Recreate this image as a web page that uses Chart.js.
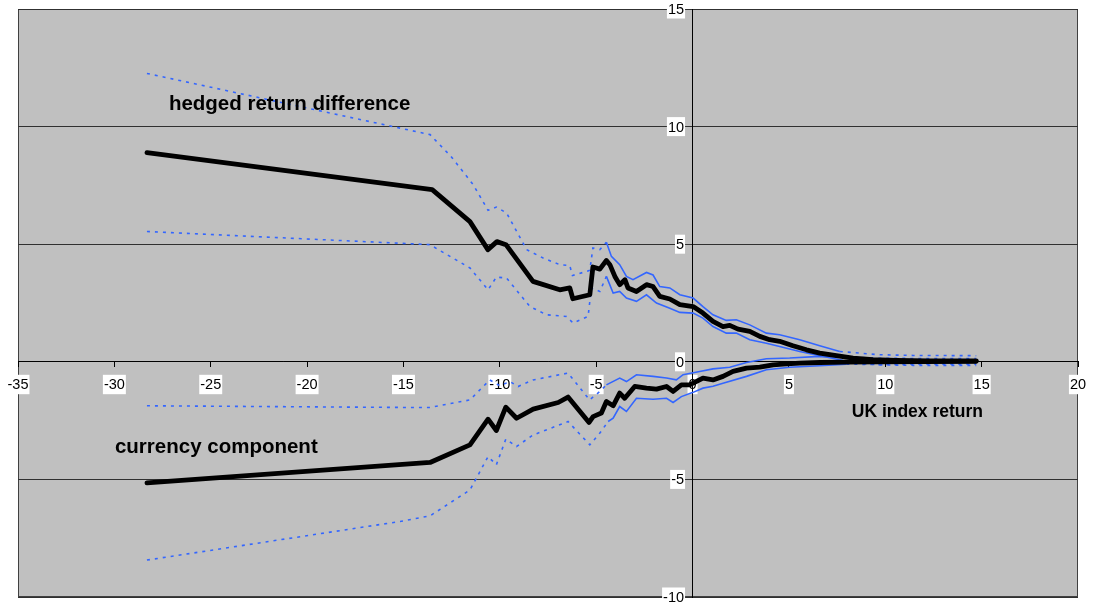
<!DOCTYPE html>
<html>
<head>
<meta charset="utf-8">
<script src="https://cdn.jsdelivr.net/npm/chart.js@4/dist/chart.umd.min.js"></script>
<style>
  body { margin: 0; background: #fff; }
  canvas { display: block; }
</style>
</head>
<body>
<canvas id="chart" width="1093" height="607"></canvas>
<script>
// values (x = UK index return, y = return)
const hedgedX = [-28.31, -13.51, -11.55, -10.62, -10.15, -9.68, -8.28, -6.89, -6.37, -6.21, -5.33, -5.17, -4.81, -4.47, -4.29, -4.03, -3.78, -3.51, -3.35, -2.91, -2.39, -2.05, -1.70, -1.18, -0.66, 0.03, 0.54, 1.06, 1.58, 1.93, 2.36, 2.97, 3.49, 4.00, 4.52, 5.21, 5.91, 6.60, 7.46, 8.33, 9.36, 10.58, 12.30, 14.72];
const hedgedY = [8.89, 7.32, 5.96, 4.77, 5.11, 4.98, 3.42, 3.06, 3.14, 2.68, 2.85, 4.03, 3.94, 4.31, 4.13, 3.63, 3.28, 3.49, 3.14, 2.99, 3.28, 3.20, 2.78, 2.67, 2.43, 2.35, 2.07, 1.72, 1.50, 1.55, 1.39, 1.29, 1.08, 0.94, 0.87, 0.68, 0.51, 0.37, 0.26, 0.16, 0.09, 0.06, 0.04, 0.04];

const hedgedUpX = [-28.31, -13.62, -12.5, -11.38, -10.61, -10.18, -9.65, -8.61, -7.75, -6.89, -6.37, -6.23, -5.68, -5.33, -5.17, -4.81, -4.47, -4.21, -3.78, -3.43, -3.09, -2.39, -2.05, -1.70, -1.18, -0.66, 0.03, 0.54, 1.06, 1.75, 2.27, 2.97, 3.83, 4.52, 5.56, 6.60, 7.64, 8.67, 9.70, 11.45, 14.72];
const hedgedUpY = [12.26, 9.66, 8.7, 7.53, 6.44, 6.58, 6.33, 4.77, 4.41, 4.13, 4.09, 3.67, 3.80, 3.89, 4.84, 4.77, 5.08, 4.48, 4.13, 3.63, 3.49, 3.80, 3.69, 3.20, 3.14, 2.85, 2.71, 2.35, 2.00, 1.76, 1.79, 1.57, 1.22, 1.15, 0.94, 0.68, 0.44, 0.37, 0.30, 0.27, 0.26];

const hedgedLoX = [-28.31, -13.63, -11.55, -10.61, -10.18, -9.65, -8.44, -7.58, -6.54, -6.20, -5.42, -5.25, -4.81, -4.47, -4.12, -3.78, -3.43, -2.91, -2.39, -1.87, -1.18, -0.66, 0.03, 0.54, 1.06, 1.75, 2.27, 2.97, 3.83, 4.52, 5.56, 6.60, 7.64, 8.67, 9.70, 11.45, 14.72];
const hedgedLoY = [5.54, 4.98, 3.99, 3.06, 3.60, 3.56, 2.35, 2.00, 1.93, 1.65, 1.93, 3.14, 2.99, 3.63, 2.92, 2.99, 2.71, 2.57, 2.85, 2.50, 2.28, 2.10, 2.07, 1.86, 1.50, 1.22, 1.22, 0.94, 0.79, 0.65, 0.44, 0.26, 0.09, -0.07, -0.13, -0.15, -0.15];

const currX = [-28.31, -13.62, -11.55, -10.61, -10.18, -9.69, -9.13, -8.27, -6.97, -6.46, -5.37, -5.16, -4.73, -4.47, -4.12, -3.78, -3.52, -3.00, -2.39, -1.87, -1.35, -1.01, -0.58, -0.15, 0.03, 0.54, 1.06, 1.58, 2.10, 2.80, 3.49, 4.18, 4.87, 5.56, 6.60, 7.98, 9.70, 12.0, 14.72];
const currY = [-5.15, -4.28, -3.53, -2.44, -2.92, -1.93, -2.40, -2.01, -1.73, -1.50, -2.58, -2.33, -2.18, -1.69, -1.87, -1.33, -1.55, -1.05, -1.12, -1.16, -1.05, -1.26, -0.98, -0.98, -0.91, -0.69, -0.77, -0.62, -0.41, -0.27, -0.23, -0.13, -0.09, -0.06, -0.03, -0.01, 0.0, 0.01, 0.02];

const currUpX = [-28.31, -15.18, -13.62, -11.55, -10.52, -10.0, -9.48, -9.05, -8.27, -6.46, -5.34, -4.81, -4.47, -3.78, -3.43, -2.91, -2.05, -1.35, -0.84, -0.49, 0.37, 1.06, 1.93, 2.80, 3.83, 5.04, 6.60, 7.98, 9.70, 12.0, 14.72];
const currUpY = [-1.87, -1.94, -1.94, -1.62, -0.77, -1.02, -0.84, -1.05, -0.77, -0.48, -1.62, -1.26, -0.98, -0.69, -0.84, -0.55, -0.62, -0.69, -0.77, -0.55, -0.41, -0.30, -0.23, -0.03, 0.13, 0.16, 0.23, 0.20, 0.15, 0.14, 0.14];

const currLoX = [-28.31, -15.18, -13.62, -11.55, -10.61, -10.18, -9.69, -9.13, -8.27, -6.46, -5.33, -4.81, -4.38, -4.12, -3.78, -3.43, -2.91, -2.05, -1.35, -1.01, -0.58, 0.03, 0.54, 1.06, 1.58, 2.80, 3.83, 5.04, 6.60, 7.98, 9.70, 12.0, 14.72];
const currLoY = [-8.43, -6.79, -6.55, -5.45, -4.03, -4.38, -3.29, -3.60, -3.11, -2.54, -3.53, -3.03, -2.54, -2.40, -1.90, -2.11, -1.55, -1.59, -1.55, -1.73, -1.48, -1.30, -1.12, -1.04, -0.91, -0.62, -0.34, -0.23, -0.17, -0.10, -0.12, -0.10, -0.10];

// axis ranges / tick step
const xRange = [-35, 20];
const yRange = [-10, 15];
const tickStep = 5;

// in-plot labels: [text, x, y, font size]
const notes = [
  ["hedged return difference", -27.17, 10.7, 20.5],
  ["currency component", -29.97, -3.89, 20.5],
  ["UK index return", 8.26, -2.36, 17.5]
];

const pts = (xs, ys) => xs.map((x, i) => ({ x: x, y: ys[i] }));

const BLUE = "#3366ff";
const FAMILY = '"Liberation Sans", Arial, sans-serif';
const tickFont = { family: FAMILY, size: 14.5 };

// dotted where the points are sparse, nearly solid where they crowd together
const bandDash = (ctx) => {
  const a = ctx.p0.parsed.x, b = ctx.p1.parsed.x;
  return (a > -4.6 && b < 8.5) ? [] : [3, 5];
};

const mainLine = (data) => ({
  data: data, showLine: true, pointRadius: 0,
  borderColor: "#000", borderWidth: 4.8, order: 0,
  borderJoinStyle: "round", borderCapStyle: "round"
});
const bandLine = (data) => ({
  data: data, showLine: true, pointRadius: 0,
  borderColor: BLUE, borderWidth: 1.6, order: 1,
  segment: { borderDash: bandDash }
});

// axes sit inside the plot, so they must not take any room from it
const noRoom = (s) => {
  if (s.isHorizontal()) s.height = 0; else s.width = 0;
  s.paddingTop = s.paddingBottom = s.paddingLeft = s.paddingRight = 0;
};

const plotBg = {
  id: "plotBg",
  beforeDraw(chart) {
    const { ctx, chartArea: a } = chart;
    ctx.save();
    ctx.fillStyle = "#c0c0c0";
    ctx.fillRect(a.left, a.top, a.right - a.left, a.bottom - a.top);
    ctx.strokeStyle = "#404040";
    ctx.lineWidth = 1;
    ctx.strokeRect(a.left + 0.5, a.top + 0.5, a.right - a.left - 1, a.bottom - a.top - 1);
    ctx.restore();
  }
};

// y tick labels: chart.js puts them flush on a value-positioned axis, the original has a gap
const yLabels = {
  id: "yLabels",
  afterDatasetsDraw(chart) {
    const { ctx, scales } = chart;
    const ax = scales.x.getPixelForValue(0) - 8.5;
    ctx.save();
    ctx.font = `${tickFont.size}px ${FAMILY}`;
    ctx.textAlign = "right";
    ctx.textBaseline = "middle";
    scales.y.ticks.forEach((t) => {
      const y = scales.y.getPixelForValue(t.value);
      const w = ctx.measureText(t.label).width;
      ctx.fillStyle = "#fff";
      ctx.fillRect(ax - w - 1, y - 9.5, w + 2, 19);
      ctx.fillStyle = "#000";
      ctx.fillText(t.label, ax, y + 1);
    });
    ctx.restore();
  }
};

const notesPlugin = {
  id: "notes",
  afterDatasetsDraw(chart) {
    const { ctx, scales } = chart;
    ctx.save();
    ctx.fillStyle = "#000";
    ctx.textBaseline = "alphabetic";
    ctx.textAlign = "left";
    notes.forEach(([text, x, y, size]) => {
      ctx.font = `bold ${size}px ${FAMILY}`;
      ctx.fillText(text, scales.x.getPixelForValue(x), scales.y.getPixelForValue(y));
    });
    ctx.restore();
  }
};

new Chart(document.getElementById("chart"), {
  type: "scatter",
  data: {
    datasets: [
      mainLine(pts(hedgedX, hedgedY)),
      mainLine(pts(currX, currY)),
      bandLine(pts(hedgedUpX, hedgedUpY)),
      bandLine(pts(hedgedLoX, hedgedLoY)),
      bandLine(pts(currUpX, currUpY)),
      bandLine(pts(currLoX, currLoY))
    ]
  },
  options: {
    responsive: false,
    animation: false,
    devicePixelRatio: 1,
    layout: { padding: { left: 18, right: 15, top: 9, bottom: 10 } },
    plugins: { legend: { display: false }, tooltip: { enabled: false } },
    scales: {
      x: {
        type: "linear", min: xRange[0], max: xRange[1],
        position: { y: 0 }, z: 1,
        afterFit: noRoom,
        ticks: {
          stepSize: tickStep, padding: 9, font: tickFont, color: "#000",
          showLabelBackdrop: true, backdropColor: "#fff", backdropPadding: 1
        },
        grid: { drawOnChartArea: false, drawTicks: true, tickLength: 5, color: "#000" },
        border: { display: true, color: "#000", width: 1 }
      },
      y: {
        type: "linear", min: yRange[0], max: yRange[1],
        position: { x: 0 },
        afterFit: noRoom,
        ticks: { stepSize: tickStep, display: false },
        grid: { drawOnChartArea: true, drawTicks: true, tickLength: 5, color: "#303030" },
        border: { display: true, color: "#000", width: 1 }
      }
    }
  },
  plugins: [plotBg, yLabels, notesPlugin]
});
</script>
</body>
</html>
